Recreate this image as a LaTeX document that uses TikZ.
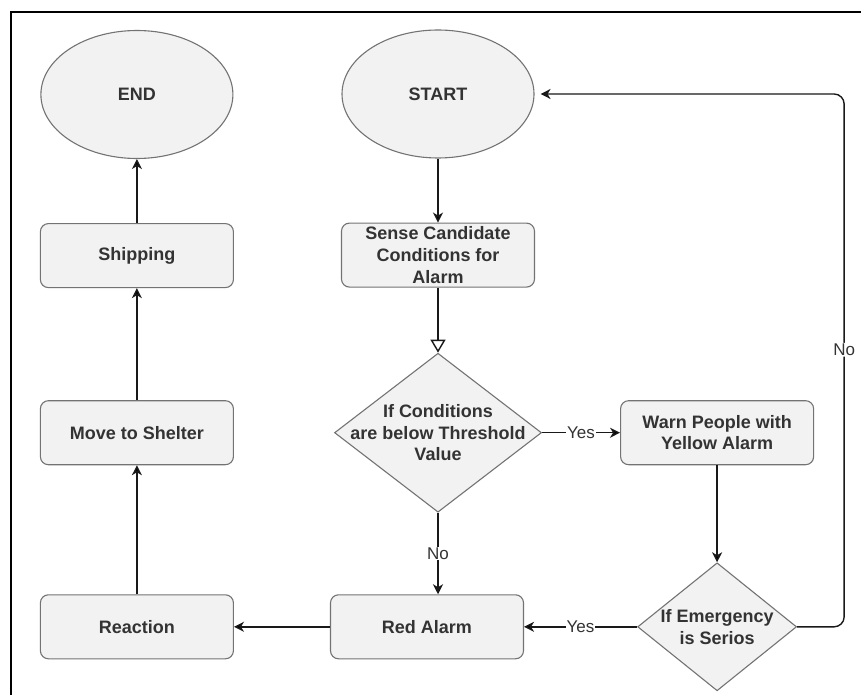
\documentclass[tikz,border=0pt]{standalone}
\usepackage{fontspec}
\setmainfont{Liberation Sans}
\usepackage{tikz}
\usetikzlibrary{shapes.geometric,positioning,arrows.meta}
\definecolor{boxfill}{HTML}{F2F2F2}
\definecolor{boxline}{HTML}{737373}
\definecolor{boxtext}{HTML}{333333}

\begin{document}
\begin{tikzpicture}[x=1pt,y=-1pt,
    >={Stealth[length=10pt,width=10pt,inset=3pt]},
    base/.style={draw=boxline,fill=boxfill,line width=1.1pt,text=boxtext,
      font=\bfseries\fontsize{18}{21.6}\selectfont,align=center,inner sep=0pt},
    term/.style={base,ellipse,minimum width=192pt,minimum height=128pt},
    proc/.style={base,rectangle,rounded corners=8pt,minimum width=193pt,minimum height=64pt},
    cond/.style={base,diamond,minimum width=207pt,minimum height=159pt},
    txt/.style={text=boxtext,font=\bfseries\fontsize{18}{21.6}\selectfont,align=center,inner sep=0pt},
    lbl/.style={fill=white,text=boxtext,font=\fontsize{17}{20}\selectfont,inner sep=1pt},
    line/.style={->,line width=1.4pt,draw=black!90}]
        \useasboundingbox (0,0) rectangle (861,695);
        \draw[line width=1.4pt] (11,695) -- (11,12) -- (861,12);

        \node[term] (start) at (438,94) {START};
        \node[proc] (sense) [below = 64pt of start] {Sense Candidate\\Conditions for\\Alarm};
        \node[cond] (cond) [below = 65pt of sense] {};
        \node[txt] (cond-txt) at (cond) {If Conditions\\are below Threshold\\Value};
        \node[proc] (warn) [right = 78pt of cond] {Warn People with\\Yellow Alarm};
        \node[cond,minimum width=159pt,minimum height=128pt] (emerg) [below = 97pt of warn] {};
        \node[txt] (emerg-txt) at (emerg) {If Emergency\\is Serios};
        \node[proc] (red) [left = 113pt of emerg] {Red Alarm};
        \node[proc] (reaction) [left = 96pt of red] {Reaction};
        \node[proc] (shelter) [above = 129pt of reaction] {Move to Shelter};
        \node[proc] (shipping) [above = 112pt of shelter] {Shipping};
        \node[term] (end) [above = 64pt of shipping] {END};

        \path[line] (start) edge (sense)
        (sense) edge [-{Triangle[open,length=13pt,width=15pt,fill=white]}] (cond)
        (cond) edge node [lbl] {Yes} (warn)
        (warn) edge (emerg)
        (emerg) edge node [lbl] {Yes} (red)
        (red) edge (reaction)
        (reaction) edge (shelter)
        (shelter) edge (shipping)
        (shipping) edge (end);
        \draw[line] (cond.south) -- node [lbl] {No} (cond.south |- red.north);
        \draw[line,rounded corners=10pt,shorten >=6pt] (emerg.east) -- ++(47pt,0) |- node [lbl,pos=0.26] {No} (start.east);
      \end{tikzpicture}
\end{document}
